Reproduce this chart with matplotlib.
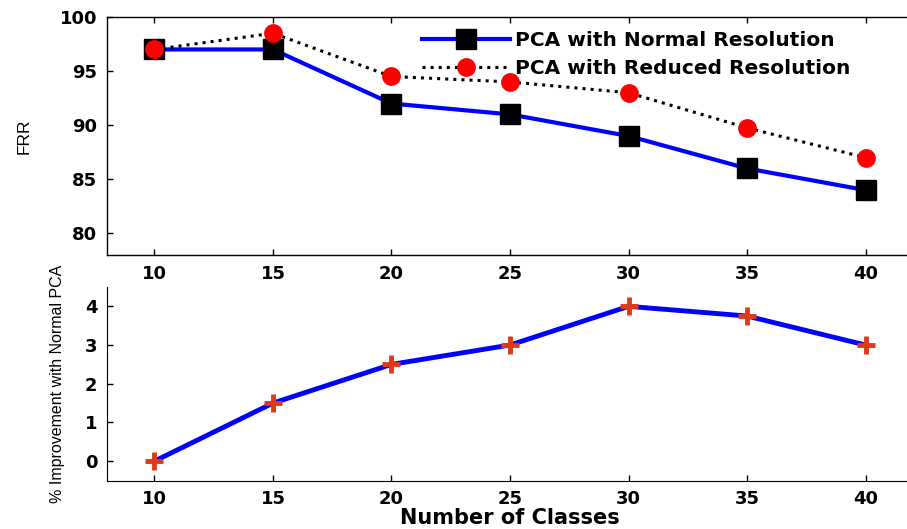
import matplotlib
matplotlib.use('Agg')
import matplotlib.pyplot as plt

# data
classes = [10, 15, 20, 25, 30, 35, 40]
frr_normal = [97, 97, 92, 91, 89, 86, 84]
frr_reduced = [97, 98.5, 94.5, 94, 93, 89.75, 87]
improvement = [0, 1.5, 2.5, 3, 4, 3.75, 3]

plt.rcParams['font.family'] = ['Liberation Sans', 'DejaVu Sans']

W, H = 907, 529
fig = plt.figure(figsize=(W / 100, H / 100), dpi=100)

def box(l, t, r, b):
    return [l / W, 1 - b / H, (r - l) / W, (b - t) / H]

tickfont = {'family': 'DejaVu Sans', 'weight': 'bold', 'size': 13}

# top plot: FRR
ax1 = fig.add_axes(box(107, 17, 913, 255))
ax1.plot(classes, frr_normal, '-', color='#0000ff', lw=3,
         marker='s', ms=15, mfc='black', mec='black',
         label='PCA with Normal Resolution')
ax1.plot(classes, frr_reduced, ':', color='black', lw=2.2,
         marker='o', ms=12.5, mfc='#ff0000', mec='#ff0000',
         label='PCA with Reduced Resolution')
ax1.set_xlim(8, 42)
ax1.set_ylim(78, 100)
ax1.set_xticks(classes)
ax1.set_yticks([80, 85, 90, 95, 100])
ax1.tick_params(direction='in', length=4, width=1, top=True, pad=7)
for lab in ax1.get_xticklabels() + ax1.get_yticklabels():
    lab.set(**tickfont)
ax1.set_ylabel('FRR', fontsize=12.5, labelpad=20)
for s in ax1.spines.values():
    s.set_linewidth(1)
leg = ax1.legend(loc='upper right', bbox_to_anchor=(0.94, 1.0), frameon=False,
                 prop={'family': 'DejaVu Sans', 'size': 14.5, 'weight': 'bold'},
                 handlelength=4.4, handletextpad=0.25, labelspacing=0.45,
                 borderaxespad=0.3)

# bottom plot: improvement
ax2 = fig.add_axes(box(107, 287, 913, 480.5))
ax2.plot(classes, improvement, '-', color='#0000ff', lw=3.5)
ax2.plot(classes, improvement, linestyle='none', marker='+', ms=13, mew=3.5,
         color='#dd3a1a')
ax2.set_xlim(8, 42)
ax2.set_ylim(-0.5, 4.5)
ax2.set_xticks(classes)
ax2.set_yticks([0, 1, 2, 3, 4])
ax2.spines['top'].set_visible(False)
ax2.spines['right'].set_visible(False)
ax2.tick_params(direction='in', length=4, width=1, pad=7)
for lab in ax2.get_xticklabels() + ax2.get_yticklabels():
    lab.set(**tickfont)
ax2.set_xlabel('Number of Classes', family='DejaVu Sans', fontsize=15,
               fontweight='bold', labelpad=0)
ax2.set_ylabel('% Improvement with Normal PCA', fontsize=11.5, labelpad=14)

fig.savefig('out.png', dpi=100)
